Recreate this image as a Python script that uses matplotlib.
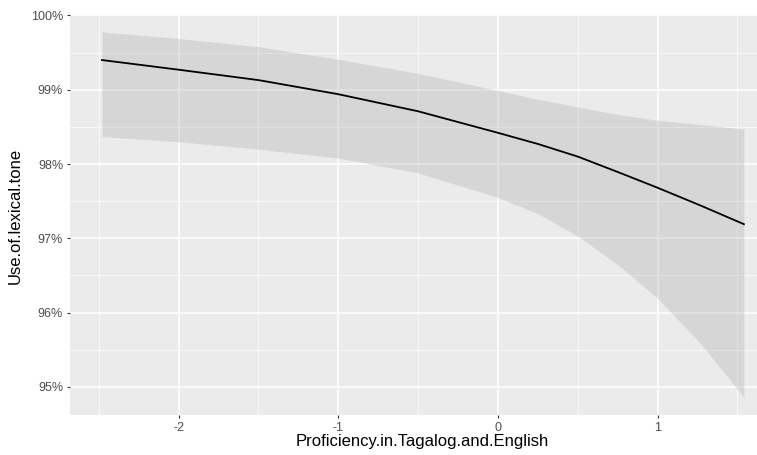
import matplotlib.pyplot as plt
from matplotlib.ticker import FuncFormatter, MultipleLocator

plt.rcParams.update({
    'font.family': ['Liberation Sans', 'DejaVu Sans'],
    'axes.linewidth': 0,
})

# predicted use of lexical tone (%) with confidence band
proficiency = [-2.48, -2.0, -1.5, -1.0, -0.5, 0.0, 0.25, 0.5, 0.765, 1.0, 1.27, 1.54]
fit = [99.40, 99.27, 99.13, 98.94, 98.71, 98.42, 98.27, 98.10, 97.88, 97.68, 97.44, 97.19]
upper = [99.78, 99.69, 99.58, 99.41, 99.22, 98.99, 98.87, 98.77, 98.66, 98.59, 98.53, 98.47]
lower = [98.37, 98.30, 98.20, 98.08, 97.88, 97.55, 97.33, 97.03, 96.62, 96.19, 95.58, 94.86]

x_ticks = [-2, -1, 0, 1]
y_ticks = [95, 96, 97, 98, 99, 100]

fig = plt.figure(figsize=(7.57, 4.55), dpi=100)
ax = fig.add_axes([70 / 757, 40 / 455, 705 / 757, 401 / 455])
ax.set_facecolor('#EBEBEB')

ax.fill_between(proficiency, lower, upper, color='#999999', alpha=0.25,
                linewidth=0, zorder=2)
ax.plot(proficiency, fit, color='black', linewidth=1.3, zorder=3)

ax.set_xlim(-2.68, 1.735)
ax.set_ylim(94.62, 100.02)
ax.set_xticks(x_ticks)
ax.set_yticks(y_ticks)
ax.xaxis.set_minor_locator(MultipleLocator(0.5))
ax.yaxis.set_minor_locator(MultipleLocator(0.5))
ax.yaxis.set_major_formatter(FuncFormatter(lambda v, p: f'{v:.0f}%'))
ax.set_xticklabels([str(t) for t in x_ticks])

ax.grid(True, which='major', color='white', linewidth=1.1, zorder=1)
ax.grid(True, which='minor', color='white', linewidth=0.5, zorder=1)
ax.set_axisbelow(True)

ax.tick_params(which='major', length=2.5, width=0.8, color='#333333',
               labelcolor='#4D4D4D', labelsize=9, pad=2.5)
ax.tick_params(which='minor', length=0)

ax.set_xlabel('Proficiency.in.Tagalog.and.English', fontsize=12,
              color='black')
ax.set_ylabel('Use.of.lexical.tone', fontsize=12, color='black')
ax.xaxis.set_label_coords((422 - 70) / 705, -0.048)
ax.yaxis.set_label_coords(-(70 - 23) / 705, (415 - 216) / 401)

for s in ax.spines.values():
    s.set_visible(False)

fig.savefig('out.png', dpi=100)
